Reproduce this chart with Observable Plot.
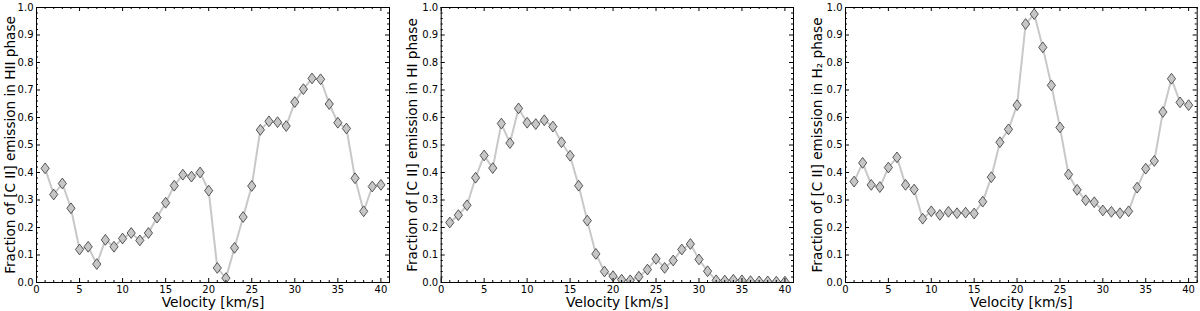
<!DOCTYPE html>
<html>
<head>
<meta charset="utf-8">
<script src="https://cdn.jsdelivr.net/npm/d3@7"></script>
<script src="https://cdn.jsdelivr.net/npm/@observablehq/plot@0.6"></script>
<style>
  html, body { margin: 0; padding: 0; background: #fff; }
  #wrap { position: relative; width: 1200px; height: 311px; }
  .panel { position: absolute; top: 0; }
  svg { font-family: "DejaVu Sans", sans-serif; }
</style>
</head>
<body>
<div id="wrap"></div>
<script>
const velocity = [1,2,3,4,5,6,7,8,9,10,11,12,13,14,15,16,17,18,19,20,21,22,23,24,25,26,27,28,29,30,31,32,33,34,35,36,37,38,39,40];

const fracHII = [0.415,0.32,0.36,0.27,0.12,0.13,0.067,0.155,0.13,0.16,0.18,0.153,0.18,0.236,0.29,0.352,0.392,0.385,0.40,0.334,0.053,0.016,0.126,0.238,0.351,0.555,0.586,0.583,0.569,0.656,0.703,0.742,0.739,0.649,0.581,0.56,0.379,0.259,0.349,0.355];

const fracHI = [0.218,0.245,0.281,0.381,0.462,0.416,0.578,0.507,0.633,0.581,0.576,0.59,0.567,0.51,0.461,0.352,0.225,0.104,0.04,0.023,0.01,0.008,0.021,0.047,0.086,0.053,0.08,0.12,0.14,0.084,0.041,0.008,0.007,0.01,0.008,0.005,0.004,0.004,0.003,0.003];

const fracH2 = [0.367,0.435,0.355,0.347,0.418,0.455,0.355,0.338,0.232,0.259,0.246,0.257,0.252,0.254,0.251,0.294,0.383,0.51,0.557,0.645,0.94,0.976,0.855,0.717,0.564,0.393,0.337,0.299,0.292,0.262,0.257,0.252,0.259,0.345,0.414,0.442,0.62,0.741,0.655,0.645];

const yLabels = [
  "Fraction of [C II] emission in HII phase",
  "Fraction of [C II] emission in HI phase",
  "Fraction of [C II] emission in H\u2082 phase"
];
const xLabel = "Velocity [km/s]";

const xMajor = [0,5,10,15,20,25,30,35,40];
const xMinor = d3.range(0, 42, 1).filter(v => v % 5 !== 0);
const yMajor = [0,0.1,0.2,0.3,0.4,0.5,0.6,0.7,0.8,0.9,1.0];
const yMinor = d3.range(0, 1.001, 0.02).filter(v => Math.abs(Math.round(v*10) - v*10) > 1e-6);

const series = [fracHII, fracHI, fracH2];

const layout = [
  {left: 0,   ml: 36,   mr: 11,  ydx: -26},
  {left: 400, ml: 40.7, mr: 7,   ydx: -28.5},
  {left: 800, ml: 45,   mr: 3.3, ydx: -28}
];

const thinDiamond = {
  draw(ctx, size) {
    const w = 4.1, h = 5.4;
    ctx.moveTo(0, -h);
    ctx.lineTo(w, 0);
    ctx.lineTo(0, h);
    ctx.lineTo(-w, 0);
    ctx.closePath();
  }
};

const W = 400, H = 311, MT = 7, MB = 29;
const wrap = document.getElementById("wrap");

series.forEach((vals, i) => {
  const L = layout[i];
  const plotW = W - L.ml - L.mr;
  const plotH = H - MT - MB;
  const data = velocity.map((v, j) => ({v, f: vals[j]}));
  const chart = Plot.plot({
    width: W,
    height: H,
    marginLeft: L.ml,
    marginRight: L.mr,
    marginTop: MT,
    marginBottom: MB,
    style: {fontFamily: "DejaVu Sans, sans-serif", fontSize: "10px", color: "#000", background: "#fff", overflow: "visible"},
    x: {domain: [0, 41]},
    y: {domain: [0, 1]},
    marks: [
      Plot.line(data, {x: "v", y: "f", stroke: "#c8c8c8", strokeWidth: 2, clip: true}),
      Plot.dot(data, {x: "v", y: "f", symbol: thinDiamond, fill: "#c6c6c6", stroke: "#333", strokeWidth: 0.8, clip: true}),
      // inward ticks, bottom & top
      Plot.tickX(xMajor, {x: d => d, insetTop: plotH - 4, stroke: "#000"}),
      Plot.tickX(xMajor, {x: d => d, insetBottom: plotH - 4, stroke: "#000"}),
      Plot.tickX(xMinor, {x: d => d, insetTop: plotH - 2, stroke: "#000"}),
      Plot.tickX(xMinor, {x: d => d, insetBottom: plotH - 2, stroke: "#000"}),
      // inward ticks, left & right
      Plot.tickY(yMajor, {y: d => d, insetRight: plotW - 4, stroke: "#000"}),
      Plot.tickY(yMajor, {y: d => d, insetLeft: plotW - 4, stroke: "#000"}),
      Plot.tickY(yMinor, {y: d => d, insetRight: plotW - 2, stroke: "#000"}),
      Plot.tickY(yMinor, {y: d => d, insetLeft: plotW - 2, stroke: "#000"}),
      Plot.axisX({ticks: xMajor, tickSize: 0, tickPadding: 3, label: null, fontSize: 10, tickFormat: d3.format("d")}),
      Plot.axisY({ticks: yMajor, tickSize: 0, tickPadding: 3, label: null, fontSize: 10, tickFormat: d3.format(".1f")}),
      Plot.frame({stroke: "#000", strokeWidth: 1}),
      Plot.text([yLabels[i]], {text: d => d, frameAnchor: "left", textAnchor: "middle", lineAnchor: "middle", rotate: -90, dx: L.ydx, fontSize: 13.6, fill: "#000"}),
      Plot.text([xLabel], {text: d => d, frameAnchor: "bottom", textAnchor: "middle", lineAnchor: "middle", dy: 20, fontSize: 13.8, fill: "#000"})
    ]
  });
  const div = document.createElement("div");
  div.className = "panel";
  div.style.left = L.left + "px";
  div.appendChild(chart);
  wrap.appendChild(div);
});
</script>
</body>
</html>
